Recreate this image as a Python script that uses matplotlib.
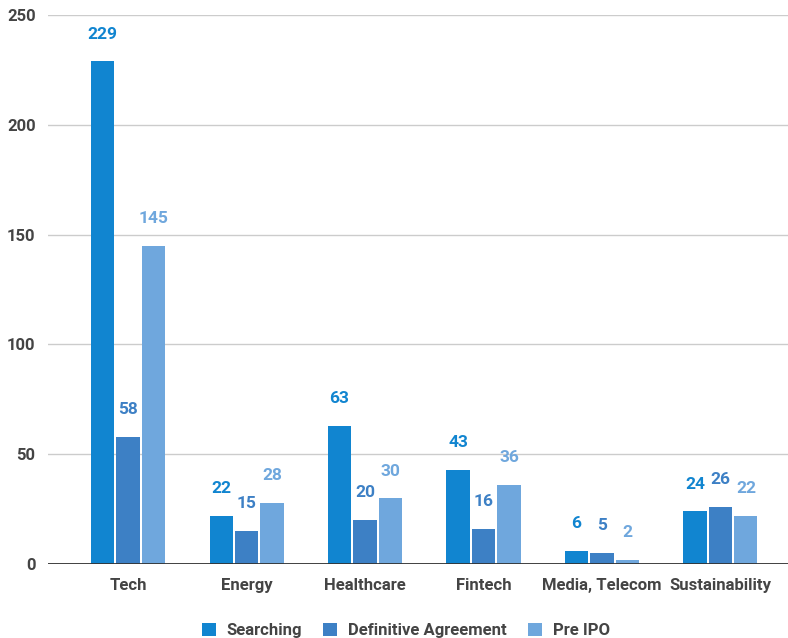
import matplotlib
matplotlib.use("Agg")

import numpy as np
import matplotlib.pyplot as plt
from matplotlib.patches import Patch

# Chart data
categories = ["Tech", "Energy", "Healthcare", "Fintech", "Media, Telecom", "Sustainability"]
series_names = ["Searching", "Definitive Agreement", "Pre IPO"]
searching = [229, 22, 63, 43, 6, 24]
definitive = [58, 15, 20, 16, 5, 26]
pre_ipo = [145, 28, 30, 36, 2, 22]
yticks = [0, 50, 100, 150, 200, 250]

colors = ["#1185D0", "#3D80C5", "#6FA7DD"]
text_gray = "#444444"

plt.rcParams["font.family"] = ["Roboto", "DejaVu Sans"]

fig = plt.figure(figsize=(7.88, 6.38), dpi=100)
ax = fig.add_axes([0.061, 0.116, 0.939, 0.8605])

x = np.arange(len(categories))
width = 0.195
step = 0.215

for i, (vals, col) in enumerate(zip([searching, definitive, pre_ipo], colors)):
    pos = x + (i - 1) * step
    ax.bar(pos, vals, width=width, color=col, zorder=3)
    for px, v in zip(pos, vals):
        ax.annotate(str(v), (px, v), xytext=(0, 19.5), textcoords="offset points",
                    ha="center", va="center", color=col, fontsize=12.5,
                    fontweight="bold", zorder=4)

ax.set_ylim(0, 250)
ax.set_xlim(-0.675, 5.57)
ax.set_yticks(yticks)
ax.set_xticks(x)
ax.set_xticklabels(categories)
ax.grid(axis="y", color="#cccccc", linewidth=1, zorder=0)
ax.axhline(0, color="#333333", linewidth=1.3, zorder=5)

for s in ax.spines.values():
    s.set_visible(False)
ax.tick_params(axis="both", length=0, labelsize=12, colors=text_gray)
ax.tick_params(axis="y", pad=9)
ax.tick_params(axis="x", pad=10)
for lab in ax.get_xticklabels() + ax.get_yticklabels():
    lab.set_fontweight("bold")

handles = [Patch(facecolor=c, edgecolor="none") for c in colors]
leg = fig.legend(handles, series_names, loc="center", bbox_to_anchor=(0.515, 0.012),
                 ncol=3, frameon=False, handlelength=0.85, handleheight=0.85,
                 columnspacing=1.25, handletextpad=0.65,
                 prop={"weight": "bold", "size": 12})
for t in leg.get_texts():
    t.set_color(text_gray)

fig.savefig("out.png", dpi=100)
plt.close(fig)
